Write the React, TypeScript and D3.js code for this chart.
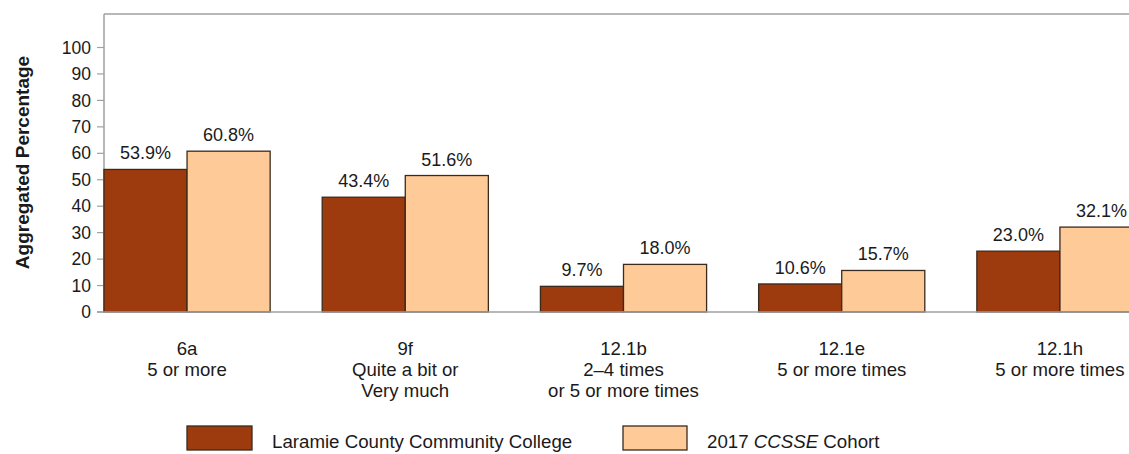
import React from "react";
import * as d3 from "d3";

const categories = ["6a", "9f", "12.1b", "12.1e", "12.1h"];
const categorySubLabels = [
  ["5 or more"],
  ["Quite a bit or", "Very much"],
  ["2–4 times", "or 5 or more times"],
  ["5 or more times"],
  ["5 or more times"],
];
const collegeValues = [53.9, 43.4, 9.7, 10.6, 23.0];
const cohortValues = [60.8, 51.6, 18.0, 15.7, 32.1];
const yTicks = [0, 10, 20, 30, 40, 50, 60, 70, 80, 90, 100];
const seriesNames = ["Laramie County Community College", "2017 CCSSE Cohort"];

const W = 1129;
const H = 454;
const FONT = "'Liberation Sans', Arial, Helvetica, sans-serif";
const DARK = "#9d3a0e";
const LIGHT = "#fecb98";
const OUTLINE = "#3b2a1e";
const AXIS = "#a0a0a0";

export default function App() {
  const axisX = 104;
  const y = d3.scaleLinear().domain([0, 100]).range([312, 47.5]);
  const x0 = d3
    .scaleBand<string>()
    .domain(categories)
    .range([78, 78 + 5 * 218.2])
    .paddingInner(0.2385)
    .paddingOuter(0.119);
  const x1 = d3
    .scaleBand<string>()
    .domain(["college", "cohort"])
    .range([0, x0.bandwidth()]);

  const series = [
    { key: "college", values: collegeValues, color: DARK },
    { key: "cohort", values: cohortValues, color: LIGHT },
  ];

  return (
    <div style={{ position: "absolute", left: 0, top: 0 }}>
      <svg width={W} height={H} style={{ display: "block", background: "#fff" }} fontFamily={FONT}>
        {/* top border & left axis */}
        <line x1={axisX} x2={W} y1={14} y2={14} stroke={AXIS} strokeWidth={1.5} />
        <line x1={axisX} x2={axisX} y1={14} y2={y(0)} stroke={AXIS} strokeWidth={1.5} />

        {/* y ticks */}
        {yTicks.map((t) => (
          <g key={t}>
            <line x1={97} x2={axisX} y1={y(t)} y2={y(t)} stroke={AXIS} strokeWidth={1.2} />
            <text x={91} y={y(t)} dy="0.35em" textAnchor="end" fontSize={17.5} fill="#1a1a1a">
              {t}
            </text>
          </g>
        ))}

        {/* y title */}
        <text
          transform={`translate(22,${(57 + 268) / 2}) rotate(-90)`}
          textAnchor="middle"
          dy="0.35em"
          fontSize={19}
          fontWeight="bold"
          fill="#1a1a1a"
        >
          Aggregated Percentage
        </text>

        {/* bars */}
        {categories.map((c, i) => (
          <g key={c} transform={`translate(${x0(c)},0)`}>
            {series.map((s) => {
              const v = s.values[i];
              const bx = x1(s.key)!;
              const bw = x1.bandwidth();
              return (
                <g key={s.key}>
                  <rect
                    x={bx}
                    y={y(v)}
                    width={bw}
                    height={y(0) - y(v)}
                    fill={s.color}
                    stroke={OUTLINE}
                    strokeWidth={1.3}
                  />
                  <text
                    x={bx + bw / 2}
                    y={y(v) - 10}
                    textAnchor="middle"
                    fontSize={18}
                    fill="#1a1a1a"
                  >
                    {v.toFixed(1)}%
                  </text>
                </g>
              );
            })}
          </g>
        ))}

        {/* baseline */}
        <line x1={97} x2={W} y1={y(0)} y2={y(0)} stroke={AXIS} strokeWidth={1.5} />

        {/* category labels */}
        {categories.map((c, i) => {
          const cx = x0(c)! + x0.bandwidth() / 2;
          const lines = [c, ...categorySubLabels[i]];
          return (
            <text key={c} textAnchor="middle" fontSize={18.6} fill="#1a1a1a">
              {lines.map((l, j) => (
                <tspan key={j} x={cx} y={355 + j * 21}>
                  {l}
                </tspan>
              ))}
            </text>
          );
        })}

        {/* legend */}
        <rect x={187} y={426} width={65} height={24} fill={DARK} stroke={OUTLINE} strokeWidth={1.3} />
        <text x={272} y={448} fontSize={18.7} fill="#1a1a1a">
          {seriesNames[0]}
        </text>
        <rect x={623} y={426} width={64} height={24} fill={LIGHT} stroke={OUTLINE} strokeWidth={1.3} />
        <text x={707} y={448} fontSize={18.7} fill="#1a1a1a">
          2017 <tspan fontStyle="italic">CCSSE</tspan> Cohort
        </text>
      </svg>
    </div>
  );
}
